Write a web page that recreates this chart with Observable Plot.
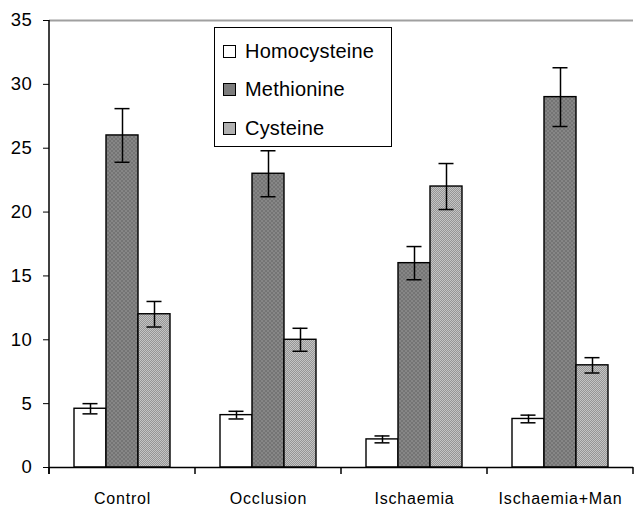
<!DOCTYPE html>
<html>
<head>
<meta charset="utf-8">
<script src="https://cdn.jsdelivr.net/npm/d3@7"></script>
<script src="https://cdn.jsdelivr.net/npm/@observablehq/plot@0.6"></script>
<style>
  html, body { margin: 0; padding: 0; background: #fff; }
  #wrap { position: relative; width: 634px; height: 506px; font-family: "Liberation Sans", Arial, sans-serif; }
  #legend { position: absolute; left: 214px; top: 27px; width: 176px; height: 118px; border: 1.5px solid #000; background: #fff; }
  .row { position: absolute; left: 8px; height: 24px; display: flex; align-items: center; font-size: 20px; letter-spacing: 0.2px; color: #000; }
  .sw { width: 11px; height: 11px; border: 1px solid #000; margin-right: 9px; box-sizing: content-box; }
</style>
</head>
<body>
<div id="wrap"></div>
<script>
const categories = ["Control", "Occlusion", "Ischaemia", "Ischaemia+Man"];
const series = ["Homocysteine", "Methionine", "Cysteine"];
const homocysteine = [4.6, 4.1, 2.2, 3.8];
const homocysteineErr = [0.4, 0.3, 0.27, 0.3];
const methionine = [26, 23, 16, 29];
const methionineErr = [2.1, 1.8, 1.3, 2.3];
const cysteine = [12, 10, 22, 8];
const cysteineErr = [1.0, 0.9, 1.8, 0.6];
const yTicks = [0, 5, 10, 15, 20, 25, 30, 35];

const values = [homocysteine, methionine, cysteine];
const errs = [homocysteineErr, methionineErr, cysteineErr];
const data = categories.flatMap((c, i) => series.map((s, j) => ({cat: c, series: s, value: values[j][i], err: errs[j][i]})));

const fills = {Homocysteine: "#ffffff", Methionine: "url(#patMet)", Cysteine: "url(#patCys)"};

const barFor = s => Plot.barY(data, {filter: d => d.series === s, fx: "cat", x: "series", y: "value", fill: fills[s], stroke: "#000", strokeWidth: 1.4});

const chart = Plot.plot({
  width: 634,
  height: 506,
  marginLeft: 48,
  marginRight: 0,
  marginTop: 20,
  marginBottom: 39,
  style: {fontFamily: "'Liberation Sans', Arial, sans-serif", fontSize: "16px", color: "#000", background: "#fff"},
  fx: {domain: categories, padding: 0, axis: "bottom", label: null, tickSize: 0, tickPadding: 25},
  x: {domain: series, paddingInner: 0, paddingOuter: 0.72, axis: null},
  y: {domain: [0, 35], ticks: yTicks, tickSize: 6, tickPadding: 11, label: null, tickFormat: d => d},
  marks: [
    Plot.ruleY([35], {stroke: "#a0a0a0", strokeWidth: 2}),
    ...series.map(barFor),
    Plot.ruleX(data, {fx: "cat", x: "series", y1: d => d.value - d.err, y2: d => d.value + d.err, stroke: "#000", strokeWidth: 1.5}),
    Plot.tickY(data, {fx: "cat", x: "series", y: d => d.value + d.err, insetLeft: 8.5, insetRight: 8.5, stroke: "#000", strokeWidth: 1.5}),
    Plot.tickY(data, {fx: "cat", x: "series", y: d => d.value - d.err, insetLeft: 8.5, insetRight: 8.5, stroke: "#000", strokeWidth: 1.5}),
    Plot.ruleY([0], {stroke: "#000", strokeWidth: 1.5})
  ]
});

const svg = d3.select(chart);
// patterns
const defs = svg.insert("defs", ":first-child");
const pm = defs.append("pattern").attr("id", "patMet").attr("patternUnits", "userSpaceOnUse").attr("width", 4).attr("height", 4);
pm.append("rect").attr("width", 4).attr("height", 4).attr("fill", "#868686");
pm.append("rect").attr("width", 2).attr("height", 2).attr("fill", "#747474");
pm.append("rect").attr("x", 2).attr("y", 2).attr("width", 2).attr("height", 2).attr("fill", "#747474");
const pc = defs.append("pattern").attr("id", "patCys").attr("patternUnits", "userSpaceOnUse").attr("width", 2).attr("height", 2);
pc.append("rect").attr("width", 2).attr("height", 2).attr("fill", "#c4c4c4");
pc.append("rect").attr("width", 1).attr("height", 1).attr("fill", "#959595");
pc.append("rect").attr("x", 1).attr("y", 1).attr("width", 1).attr("height", 1).attr("fill", "#959595");

// axes lines and category boundary ticks from the scales
const fxs = chart.scale("fx");
const ys = chart.scale("y");
const y0 = ys.apply(0);
const y35 = ys.apply(35);
const edges = [];
categories.forEach(c => { const a = fxs.apply(c); edges.push(a, a + fxs.bandwidth); });
const uniq = Array.from(new Set(edges.map(e => Math.round(e * 10) / 10)));
const g = svg.append("g");
g.selectAll("line.b").data(uniq).join("line")
  .attr("x1", d => d).attr("x2", d => d).attr("y1", y0).attr("y2", y0 + 7)
  .attr("stroke", "#000").attr("stroke-width", 1.5);
g.append("line").attr("x1", fxs.apply(categories[0])).attr("x2", fxs.apply(categories[0]))
  .attr("y1", y35).attr("y2", y0 + 7).attr("stroke", "#000").attr("stroke-width", 1.5);

svg.selectAll("text").style("letter-spacing", "0.8px");
svg.selectAll("text").filter(function() {
  const t = this.textContent.trim();
  return yTicks.map(String).includes(t);
}).style("font-size", "18.5px").style("letter-spacing", "0.6px");

const wrap = document.getElementById("wrap");
wrap.appendChild(chart);

// legend
const legend = document.createElement("div");
legend.id = "legend";
const legendFills = {Homocysteine: "#ffffff", Methionine: "#7d7d7d", Cysteine: "#b0b0b0"};
series.forEach((s, i) => {
  const row = document.createElement("div");
  row.className = "row";
  row.style.top = (11 + i * 38.5) + "px";
  const sw = document.createElement("div");
  sw.className = "sw";
  sw.style.background = legendFills[s];
  row.appendChild(sw);
  row.appendChild(document.createTextNode(s));
  legend.appendChild(row);
});
wrap.appendChild(legend);
</script>
</body>
</html>
